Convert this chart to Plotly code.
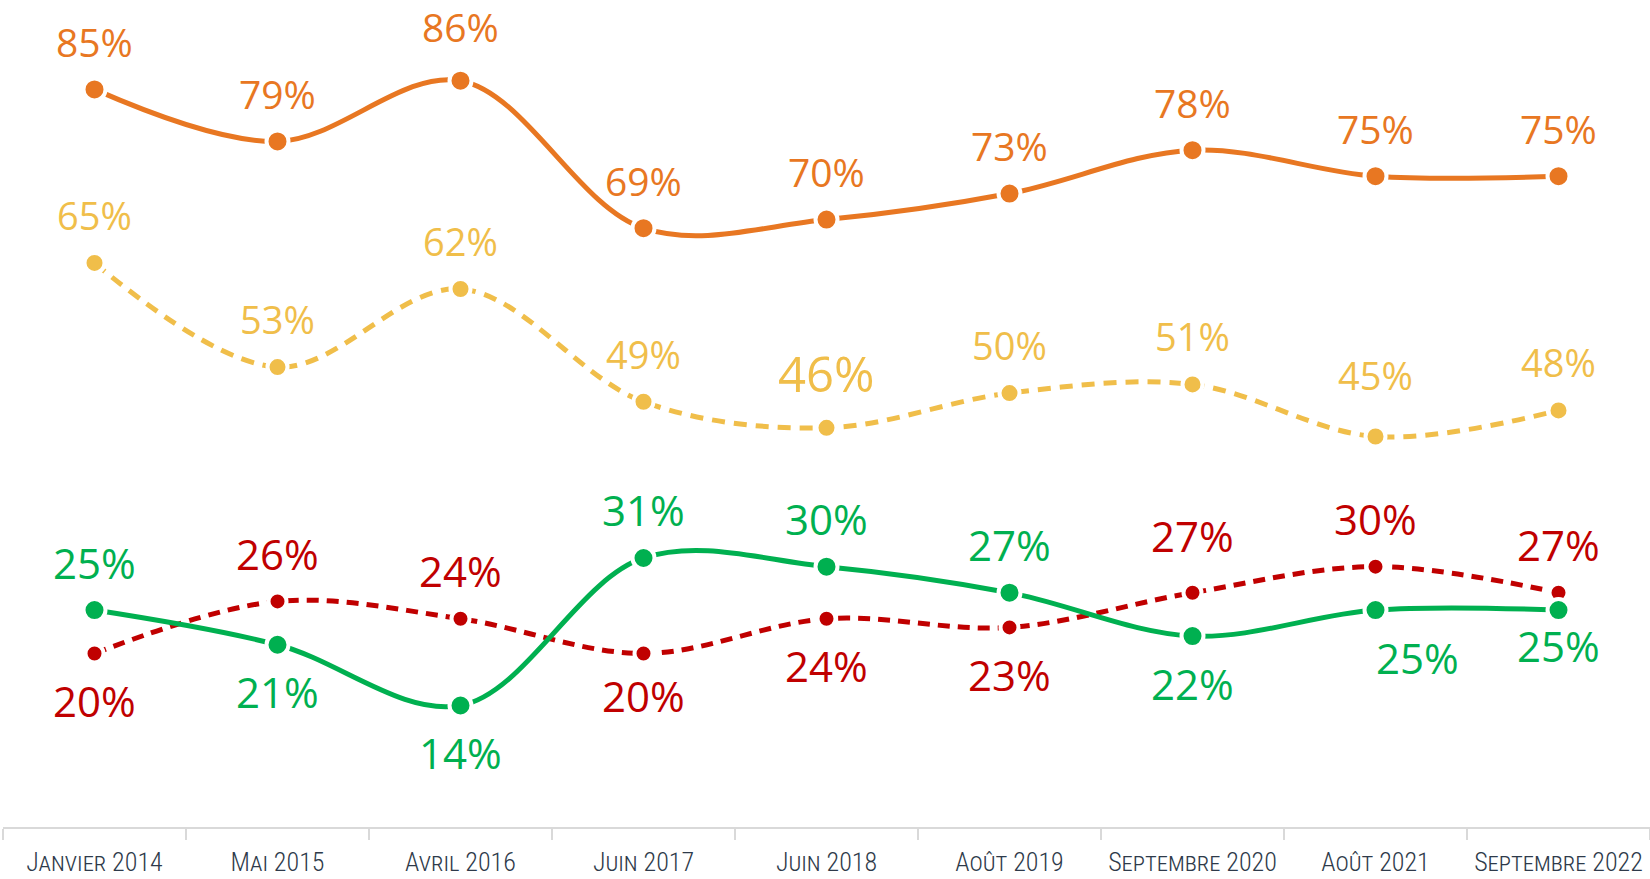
import plotly.graph_objects as go

categories = ["Janvier 2014", "Mai 2015", "Avril 2016", "Juin 2017", "Juin 2018",
              "Août 2019", "Septembre 2020", "Août 2021", "Septembre 2022"]

serie_orange = [85, 79, 86, 69, 70, 73, 78, 75, 75]
serie_jaune = [65, 53, 62, 49, 46, 50, 51, 45, 48]
serie_verte = [25, 21, 14, 31, 30, 27, 22, 25, 25]
serie_rouge = [20, 26, 24, 20, 24, 23, 27, 30, 27]

# label placement (1 = above, -1 = below)
pos_orange = [1] * 9
pos_jaune = [1] * 9
pos_verte = [1, -1, -1, 1, 1, 1, -1, -1, -1]
pos_rouge = [-1, 1, 1, -1, -1, -1, 1, 1, 1]

series = [
    # name, values, color, line dash, marker size, label positions, label size
    ("Série A", serie_orange, "#E87722", "solid", 22, pos_orange, 39),
    ("Série B", serie_jaune, "#F0BE4A", "13px,9px", 20, pos_jaune, 38),
    ("Série D", serie_rouge, "#C00000", "12px,8px", 18, pos_rouge, 42),
    ("Série C", serie_verte, "#00B050", "solid", 22, pos_verte, 42),
]

fig = go.Figure()
for name, vals, color, dash, msize, pos, fsize in series:
    fig.add_trace(go.Scatter(
        x=categories, y=vals, name=name, mode="lines+markers",
        line=dict(color=color, width=5, dash=dash, shape="spline", smoothing=1.0),
        marker=dict(size=msize, color=color, line=dict(color="white", width=4)),
        cliponaxis=False, showlegend=False,
    ))
    for i, (c, v, p) in enumerate(zip(categories, vals, pos)):
        size = fsize
        xs = 0
        ys = 48 if p > 0 else -47
        if name == "Série B" and v == 46:
            size = 49
            ys = 55
        if name == "Série B" and v == 45:
            ys = 62
        if name == "Série C" and i == 7:
            xs = 42
        if name == "Série C" and i == 8:
            ys = -35
        if name == "Série D" and i == 6:
            ys = 57
        if name == "Série D" and i == 3:
            ys = -42
        if name == "Série A" and v == 86:
            ys = 54
        fig.add_annotation(
            x=c, y=v, text=f"{v}%", showarrow=False,
            xanchor="center", yanchor="middle", xshift=xs, yshift=ys,
            font=dict(family="Open Sans, Noto Sans, sans-serif", size=size, color=color),
        )

fig.update_layout(
    width=1650, height=879,
    margin=dict(l=3, r=0, t=0, b=52),
    paper_bgcolor="white", plot_bgcolor="white",
    xaxis=dict(
        type="category", showgrid=False, zeroline=False,
        showline=True, linecolor="#D9D9D9", linewidth=2,
        ticks="outside", tickson="boundaries", ticklen=11, tickcolor="#D9D9D9", tickwidth=2,
        tickangle=0, ticklabelstandoff=11,
        tickfont=dict(family="Roboto Condensed, Liberation Sans Narrow, Arial Narrow, sans-serif",
                      size=26, color="#2E3A4A", variant="small-caps", weight=300),
        automargin=False, range=[-0.5, 8.5],
    ),
    yaxis=dict(range=[0, 95.3], visible=False, showgrid=False, zeroline=False, fixedrange=True),
)

fig.write_html("out.html", post_script="document.body.style.margin='0';",
               config={"displayModeBar": False})
